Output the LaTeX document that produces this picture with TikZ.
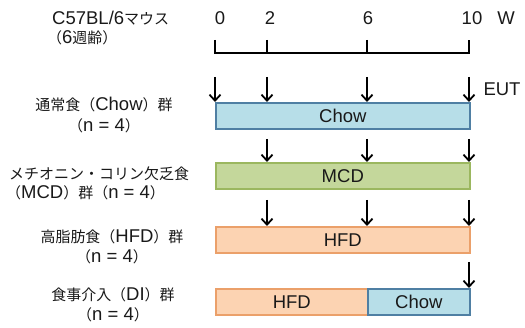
\documentclass[tikz,border=0pt]{standalone}
\usepackage{fontspec}
\setmainfont{Liberation Sans}
\newfontfamily\jp[Scale=0.81]{Noto Sans CJK JP}
\usetikzlibrary{arrows.meta}
\definecolor{chowfill}{HTML}{B7DEE8}
\definecolor{chowdraw}{HTML}{4F7FA3}
\definecolor{mcdfill}{HTML}{C4D79B}
\definecolor{mcddraw}{HTML}{9BB75F}
\definecolor{hfdfill}{HTML}{FCD3B2}
\definecolor{hfddraw}{HTML}{EBA06A}
\begin{document}
\begin{tikzpicture}[x=1pt,y=-1pt,
  every node/.style={font=\fontsize{18.5}{22}\selectfont, inner sep=0pt, text=black!90},
  diet/.style={draw, line width=1.6pt, minimum height=26pt, anchor=north west},
  chowbox/.style={diet, fill=chowfill, draw=chowdraw},
  mcdbox/.style={diet, fill=mcdfill, draw=mcddraw},
  hfdbox/.style={diet, fill=hfdfill, draw=hfddraw},
  arr/.style={line width=1.8pt, -{Straight Barb[length=6pt,width=11pt,line width=1.8pt]}},
  brk/.style={line width=1.8pt}
]
\useasboundingbox (0,0) rectangle (525,328);

% left labels
\node[anchor=west] (m1) at (52,18) {C57BL/6{\jp マウス}};
\node[anchor=west] (m2) at (47,38) {{\jp （}6{\jp 週齢）}};

\node (cl1) at (104,105) {{\jp 通常食（}Chow{\jp ）群}};
\node (cl2) at (104,126) {{\jp （}n = 4{\jp ）}};

\node[anchor=west] (ml1) at (9,174) {{\jp メチオニン・コリン欠乏食}};
\node[anchor=west] (ml2) at (6,193) {{\jp （}MCD{\jp ）群（}n = 4{\jp ）}};

\node (hl1) at (112,237) {{\jp 高脂肪食（}HFD{\jp ）群}};
\node (hl2) at (112,257) {{\jp （}n = 4{\jp ）}};

\node (dl1) at (113,295) {{\jp 食事介入（}DI{\jp ）群}};
\node (dl2) at (113,315) {{\jp （}n = 4{\jp ）}};

% timeline labels
\node (w0) at (220,18) {0};
\node (w2) at (270,18) {2};
\node (w6) at (368,18) {6};
\node (w10) at (472,18) {10};
\node (wu) at (506,18) {W};

% bracket
\coordinate (t0) at (215,40);
\coordinate (t2) at (267,40);
\coordinate (t6) at (367,40);
\coordinate (t10) at (469,40);
\draw[brk] (t0) -- (t0 |- 0,53) -- (t10 |- 0,53) -- (t10);
\draw[brk] (t2) -- (t2 |- 0,53);
\draw[brk] (t6) -- (t6 |- 0,53);

% boxes
\node[chowbox, minimum width=254pt] (chow) at (215,102) {};
\node at (chow.center) {Chow};
\node[mcdbox, minimum width=254pt] (mcd) at (215,162) {};
\node at (mcd.center) {MCD};
\node[hfdbox, minimum width=254pt] (hfd) at (215,226) {};
\node at (hfd.center) {HFD};
\node[hfdbox, minimum width=152pt] (dih) at (215,288) {};
\node at (dih.center) {HFD};
\node[chowbox, minimum width=102pt] (dic) at (367,288) {};
\node at (dic.center) {Chow};

% arrows
\coordinate (a0) at (215,77);
\coordinate (a2) at (267,77);
\coordinate (a6) at (367,77);
\coordinate (a10) at (469,77);
\foreach \p in {a0,a2,a6,a10} \draw[arr] (\p) -- (\p |- chow.north);
\node (eut) at (502,89) {EUT};

\coordinate (b2) at (267,139);
\coordinate (b6) at (367,139);
\coordinate (b10) at (469,139);
\foreach \p in {b2,b6,b10} \draw[arr] (\p) -- (\p |- mcd.north);

\coordinate (c2) at (267,200);
\coordinate (c6) at (367,200);
\coordinate (c10) at (469,200);
\foreach \p in {c2,c6,c10} \draw[arr] (\p) -- (\p |- hfd.north);

\coordinate (d10) at (469,262);
\draw[arr] (d10) -- (d10 |- dic.north);
\end{tikzpicture}
\end{document}
